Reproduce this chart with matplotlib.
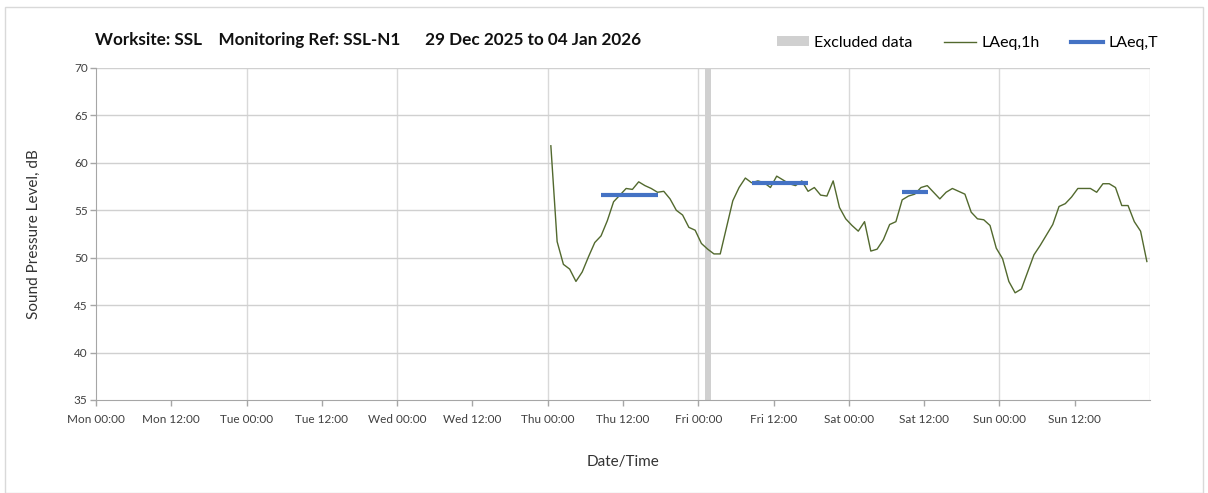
import matplotlib
matplotlib.use("Agg")
import matplotlib.pyplot as plt
from matplotlib.patches import Patch, Rectangle
from matplotlib.lines import Line2D
import numpy as np

plt.rcParams['font.family'] = ['Lato', 'DejaVu Sans']

# Hours since Mon 00:00 (hourly values plotted at mid-hour)
hours = np.arange(72.5, 168.0, 1.0)
laeq_1h = [61.8, 51.7, 49.3, 48.8, 47.5, 48.5, 50.1, 51.6, 52.3, 53.9,
           55.9, 56.6, 57.3, 57.2, 58.0, 57.6, 57.3, 56.9, 57.0, 56.2,
           55.0, 54.5, 53.2, 52.9, 51.5, 50.9, 50.4, 50.4, 53.2, 56.0,
           57.4, 58.4, 57.9, 58.1, 57.9, 57.4, 58.6, 58.2, 57.8, 57.6,
           58.1, 57.0, 57.4, 56.6, 56.5, 58.1, 55.3, 54.1, 53.4, 52.8,
           53.8, 50.7, 50.9, 51.9, 53.5, 53.8, 56.1, 56.5, 56.7, 57.4,
           57.6, 56.9, 56.2, 56.9, 57.3, 57.0, 56.7, 54.8, 54.1, 54.0,
           53.4, 51.0, 49.9, 47.5, 46.3, 46.7, 48.5, 50.3, 51.3, 52.4,
           53.5, 55.4, 55.7, 56.4, 57.3, 57.3, 57.3, 56.9, 57.8, 57.8,
           57.4, 55.5, 55.5, 53.8, 52.8, 49.6]

# LAeq,T periods (start hour, end hour, level)
laeqT_start = [80.5, 104.5, 128.5]
laeqT_end = [89.5, 113.5, 132.6]
laeqT_level = [56.6, 57.9, 56.9]

# Excluded data period
excl_start = [97.0]
excl_end = [98.0]

tick_labels = ["Mon 00:00", "Mon 12:00", "Tue 00:00", "Tue 12:00", "Wed 00:00",
               "Wed 12:00", "Thu 00:00", "Thu 12:00", "Fri 00:00", "Fri 12:00",
               "Sat 00:00", "Sat 12:00", "Sun 00:00", "Sun 12:00"]

W, H = 1208, 493
fig = plt.figure(figsize=(W / 100, H / 100), dpi=100)
fig.patches.append(Rectangle((5 / W, 0), 1 - 10 / W, 1 - 7 / H, transform=fig.transFigure,
                             fill=False, edgecolor='#d9d9d9', lw=1))
ax = fig.add_axes([96 / W, 1 - 400 / H, (1150 - 96) / W, (400 - 68) / H])

for s, e in zip(excl_start, excl_end):
    ax.axvspan(s, e, color='#d0d0d0', lw=0, zorder=1)

ax.plot(hours, laeq_1h, color='#52692e', lw=1.0, zorder=3)
for s, e, v in zip(laeqT_start, laeqT_end, laeqT_level):
    ax.plot([s, e], [v, v], color='#4472c4', lw=3, solid_capstyle='butt', zorder=4)

ax.set_xlim(0, 168)
ax.set_ylim(35, 70)
ax.set_xticks(np.arange(0, 168, 12))
ax.set_xticklabels(tick_labels)
ax.set_yticks(np.arange(35, 71, 5))
for x in np.arange(24, 169, 24):
    ax.axvline(x, color='#d9d9d9', lw=1, zorder=0)
for y in np.arange(40, 71, 5):
    ax.axhline(y, color='#d0d0d0', lw=1, zorder=0)

for sp in ['top', 'right']:
    ax.spines[sp].set_visible(False)
for sp in ['left', 'bottom']:
    ax.spines[sp].set_color('#a6a6a6')
ax.tick_params(axis='both', colors='#a6a6a6', labelcolor='#404040', labelsize=8.5,
               length=4, width=1)
ax.tick_params(axis='x', pad=6)
ax.tick_params(axis='y', pad=2)

ax.set_ylabel("Sound Pressure Level, dB", fontsize=11, color='#333333', labelpad=24)
ax.set_xlabel("Date/Time", fontsize=11, color='#333333', labelpad=22)

fig.text(95 / W, 1 - 40 / H, "Worksite: SSL    Monitoring Ref: SSL-N1      29 Dec 2025 to 04 Jan 2026",
         fontsize=12.3, fontweight='bold', color='#111111', va='center', ha='left')

handles = [Patch(facecolor='#d0d0d0', edgecolor='none', label='Excluded data'),
           Line2D([], [], color='#52692e', lw=1, label='LAeq,1h'),
           Line2D([], [], color='#4472c4', lw=3, label='LAeq,T')]
fig.legend(handles=handles, loc='center right', bbox_to_anchor=(1172 / W, 1 - 43 / H),
           ncol=3, frameon=False, fontsize=11.5, handlelength=2.0, handletextpad=0.3,
           columnspacing=2.0, handleheight=0.6)

fig.savefig("out.png", dpi=100)
